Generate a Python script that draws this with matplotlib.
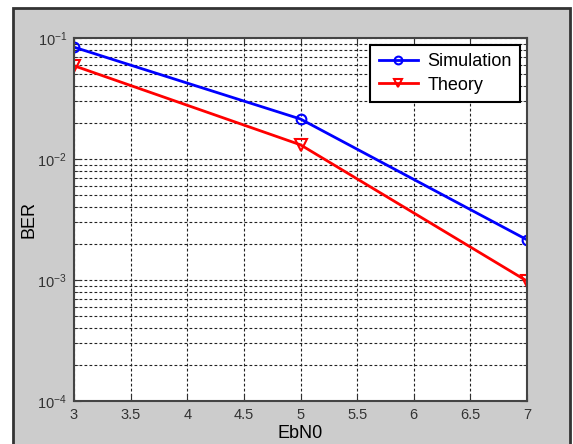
import numpy as np
import matplotlib.pyplot as plt
from matplotlib.patches import Rectangle
from matplotlib.ticker import LogLocator, NullFormatter

plt.rcParams['font.family'] = ['Liberation Sans', 'DejaVu Sans']

# Data
ebn0 = [3, 5, 7]
ber_sim = [0.084, 0.0214, 0.00215]
ber_theory = [0.059, 0.0131, 0.00098]
x_ticks = [3, 3.5, 4, 4.5, 5, 5.5, 6, 6.5, 7]
x_labels = ['3', '3.5', '4', '4.5', '5', '5.5', '6', '6.5', '7']

fig = plt.figure(figsize=(5.73, 4.44), dpi=100)
fig.patch.set_facecolor('white')
# grey window background with dark frame
fig.patches.append(Rectangle((13/573, -0.01), (570-13)/573, 1 - 8/444 + 0.01,
                             transform=fig.transFigure, facecolor='#cccccc',
                             edgecolor='#333333', linewidth=2, zorder=-1))

ax = fig.add_axes([74/573, 1 - 401/444, (527-74)/573, (401-38)/444])
ax.plot(ebn0, ber_sim, 'b-', marker='o', markersize=7, markerfacecolor='none',
        markeredgewidth=1.5, linewidth=2, label='Simulation')
ax.plot(ebn0, ber_theory, 'r-', marker='v', markersize=8, markerfacecolor='none',
        markeredgewidth=1.5, linewidth=2, label='Theory')

ax.set_yscale('log')
ax.set_xlim(3, 7)
ax.set_ylim(1e-4, 1e-1)
ax.set_xticks(x_ticks)
ax.set_xticklabels(x_labels)
ax.yaxis.set_minor_locator(LogLocator(base=10, subs=np.arange(2, 10)))
ax.yaxis.set_minor_formatter(NullFormatter())

ax.grid(True, which='major', linestyle=(0, (2.5, 2)), color='#222222', linewidth=0.8)
ax.grid(True, which='minor', axis='y', linestyle=(0, (2.5, 2)), color='#222222', linewidth=0.8)
ax.tick_params(which='both', direction='in', top=True, right=True,
               labelsize=10.5, colors='#333333', labelcolor='#333333')
ax.tick_params(which='major', length=5, pad=5)
ax.tick_params(which='minor', length=3)
for s in ax.spines.values():
    s.set_color('#444444')
    s.set_linewidth(1.5)

ax.set_xlabel('EbN0', fontsize=13, labelpad=2)
ax.set_ylabel('BER', fontsize=13, labelpad=0)
ax.yaxis.set_label_coords(-0.08, 0.5)

leg = ax.legend(loc='upper right', fontsize=13, frameon=True, fancybox=False,
                edgecolor='black', framealpha=1, handlelength=2.2, handletextpad=0.5,
                markerscale=0.8, borderaxespad=0.4, borderpad=0.45, labelspacing=0.35)
leg.get_frame().set_linewidth(1.5)

fig.savefig('out.png', dpi=100)
